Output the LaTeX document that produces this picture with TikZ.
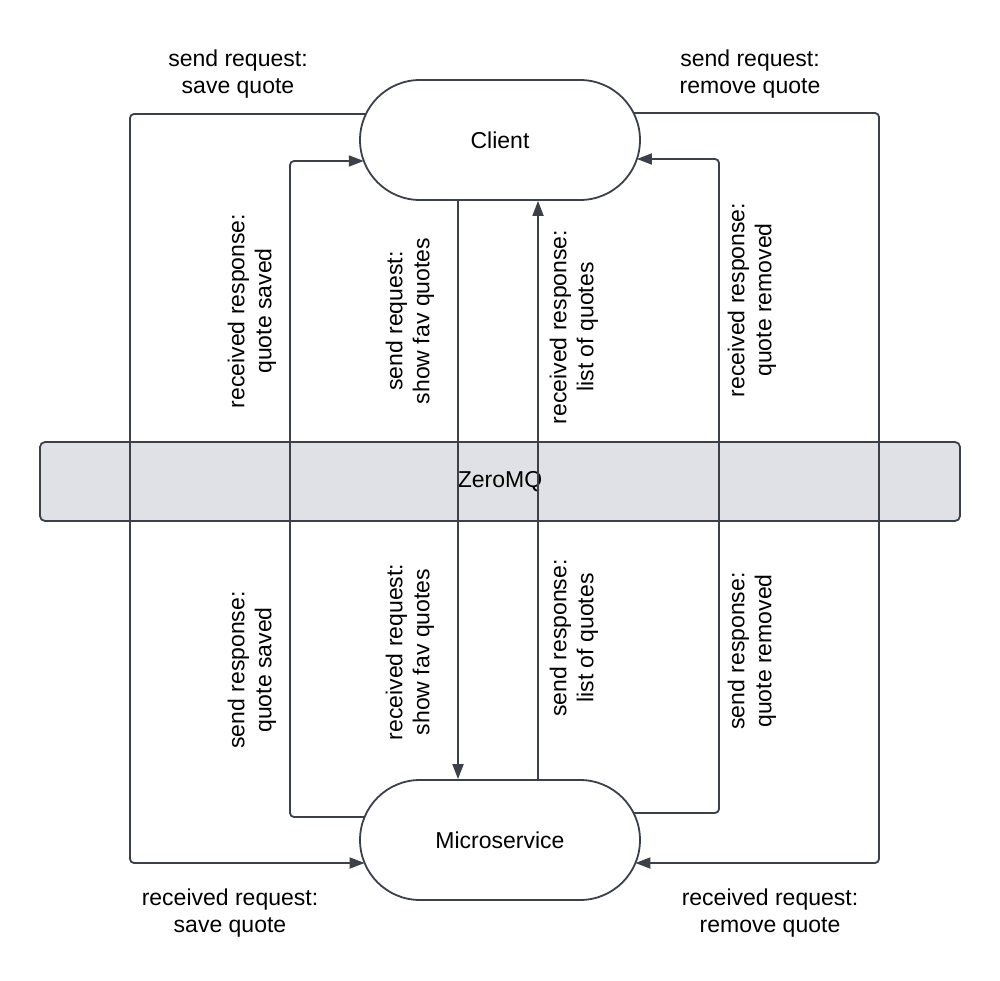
\documentclass[tikz,border=0pt]{standalone}
\usepackage{fontspec}
\setmainfont{Liberation Sans}
\usetikzlibrary{arrows.meta,shapes.misc,calc}
\definecolor{ink}{HTML}{3B4049}
\definecolor{band}{HTML}{DFE1E6}
\begin{document}
\begin{tikzpicture}[x=1pt,y=-1pt,
  every node/.style={font=\fontsize{23}{27}\selectfont, text=black},
  stadium/.style={draw=ink, line width=1.8pt, fill=white, rounded rectangle,
    minimum width=280pt, minimum height=120pt, inner sep=0pt},
  bandbox/.style={draw=ink, line width=1.8pt, fill=band, rounded corners=5pt,
    minimum width=920pt, minimum height=79pt, inner sep=0pt},
  conn/.style={draw=ink, line width=1.8pt, rounded corners=4pt,
    -{Triangle[length=15pt,width=11pt]}},
  lbl/.style={align=center, inner sep=0pt},
  vlbl/.style={align=center, inner sep=0pt, rotate=90}]
\useasboundingbox (0,0) rectangle (1000,981);
\fill[white] (0,0) rectangle (1000,981);

\node[bandbox] (zmq) at (500,481.5) {ZeroMQ};
\node[stadium] (client) at (500,140) {Client};
\node[stadium] (msvc) at (500,840) {Microservice};

% left outer: save quote request
\draw[conn] ($(client.center)+(-134.5,-26)$) -- (130,114) -- (130,863)
  -- ($(msvc.center)+(-135.4,23)$);
% left inner: quote saved response
\draw[conn] ($(msvc.center)+(-135.4,-23)$) -- (290,817) -- (290,161)
  -- ($(client.center)+(-136.2,21)$);
% centre down: show fav quotes
\draw[conn] ($(client.south)+(-42,0)$) -- ($(msvc.north)+(-42,0)$);
% centre up: list of quotes
\draw[conn] ($(msvc.north)+(38,0)$) -- ($(client.south)+(38,0)$);
% right inner: quote removed response
\draw[conn] ($(msvc.center)+(133.6,-27)$) -- (719,813) -- (719,159)
  -- ($(client.center)+(136.9,19)$);
% right outer: remove quote request
\draw[conn] ($(client.center)+(133.6,-27)$) -- (879,113) -- (879,863)
  -- ($(msvc.center)+(135.4,23)$);

% horizontal labels
\node[lbl] (l1) at (238,74) {send request:\\save quote};
\node[lbl] (l2) at (750,74) {send request:\\remove quote};
\node[lbl] (l3) at (230,913) {received request:\\save quote};
\node[lbl] (l4) at (770,913) {received request:\\remove quote};

% vertical labels
\node[vlbl] (v1) at (252,311) {received response:\\quote saved};
\node[vlbl] (v2) at (252,670) {send response:\\quote saved};
\node[vlbl] (v3) at (410,321) {send request:\\show fav quotes};
\node[vlbl] (v4) at (410,652) {received request:\\show fav quotes};
\node[vlbl] (v5) at (574,327) {received response:\\list of quotes};
\node[vlbl] (v6) at (574,638) {send response:\\list of quotes};
\node[vlbl] (v7) at (752,300) {received response:\\quote removed};
\node[vlbl] (v8) at (752,651) {send response:\\quote removed};
\end{tikzpicture}
\end{document}
